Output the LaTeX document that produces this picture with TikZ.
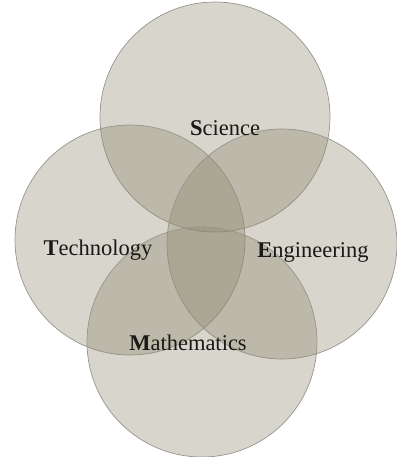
\documentclass[tikz,border=0pt]{standalone}
\usepackage{fontspec}
\setmainfont{Liberation Serif}
\usepackage{tikz}
\definecolor{setfill}{RGB}{140,134,108}
\definecolor{setline}{RGB}{150,149,140}
\definecolor{labeltext}{RGB}{25,25,22}

\begin{document}
\begin{tikzpicture}[x=1pt,y=-1pt,
  set/.style={circle,draw=setline,line width=0.7pt,fill=setfill,fill opacity=0.35,
    minimum size=230pt,inner sep=0pt,outer sep=0pt},
  lbl/.style={text=labeltext,inner sep=1pt,font=\fontsize{22.5}{26}\selectfont}]
\useasboundingbox (0,0) rectangle (396,457);
\node[set] (sci) at (215,117) {};
\node[set] (tech) at (130,240) {};
\node[set] (eng) at (282,244) {};
\node[set] (math) at (202,342) {};
\node[lbl] (scilbl) at (225,128) {\textbf{S}cience};
\node[lbl] (techlbl) at (98,250) {\textbf{T}echnology};
\node[lbl] (englbl) at (313,252) {\textbf{E}ngineering};
\node[lbl] (mathlbl) at (188,343) {\textbf{M}athematics};
\end{tikzpicture}
\end{document}
